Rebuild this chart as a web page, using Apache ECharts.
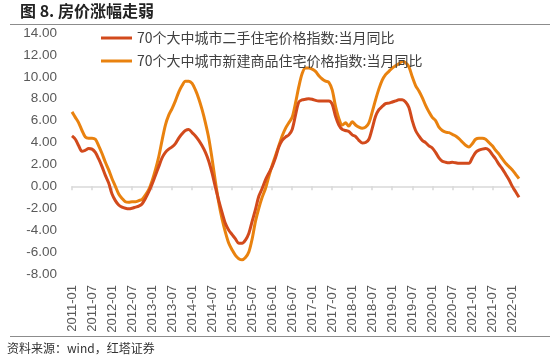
<!DOCTYPE html>
<html><head><meta charset="utf-8">
<script src="https://cdn.jsdelivr.net/npm/echarts@6/dist/echarts.min.js"></script>
<style>html,body{margin:0;padding:0;background:#fff}#c{width:550px;height:360px}</style>
</head><body><div id="c"></div>
<script>
var startYear = 2011, monthCount = 135;
var yTicks = [-8, 14, 2];
var seriesNames = ["70个大中城市二手住宅价格指数:当月同比", "70个大中城市新建商品住宅价格指数:当月同比"];
var secondHand = [4.6,4.3,3.7,3.2,3.3,3.45,3.4,3.1,2.5,1.8,1.0,0.3,
-0.7,-1.3,-1.7,-1.9,-2.0,-2.05,-2.0,-1.9,-1.8,-1.6,-1.1,-0.5,
0.2,1.0,1.8,2.6,3.1,3.4,3.6,3.9,4.4,4.8,5.1,5.2,
4.9,4.6,4.2,3.7,3.1,2.3,1.2,-0.1,-1.3,-2.4,-3.4,-4.0,
-4.4,-4.8,-5.2,-5.2,-4.9,-4.3,-3.2,-2.1,-0.9,-0.2,0.6,1.2,
1.8,2.6,3.6,4.2,4.5,4.7,5.2,6.5,7.7,7.9,7.95,8.0,
7.95,7.85,7.8,7.8,7.8,7.8,7.5,6.4,5.6,5.2,5.1,5.0,
4.7,4.55,4.2,3.95,4.0,4.3,5.3,6.4,7.0,7.3,7.55,7.6,
7.7,7.8,7.9,7.9,7.7,7.2,6.0,5.1,4.6,4.2,4.0,3.7,
3.5,3.1,2.6,2.3,2.2,2.15,2.2,2.15,2.1,2.1,2.1,2.1,
2.6,3.1,3.3,3.4,3.45,3.3,2.9,2.5,2.0,1.6,1.1,0.6,
0.0,-0.5,-1.0];
var newBuild = [6.8,6.3,5.8,5.1,4.5,4.4,4.4,4.3,3.7,3.0,2.2,1.5,
0.7,0.0,-0.7,-1.1,-1.4,-1.45,-1.4,-1.4,-1.3,-1.2,-0.8,-0.3,
0.5,1.5,2.7,4.2,5.6,6.5,7.1,7.8,8.6,9.2,9.6,9.6,
9.4,8.8,8.0,7.0,5.8,4.4,2.5,0.4,-1.5,-3.0,-4.2,-5.2,
-5.8,-6.3,-6.6,-6.7,-6.5,-6.0,-4.8,-3.2,-2.0,-1.0,-0.2,0.9,
1.9,2.8,3.7,4.6,5.3,5.8,6.3,7.6,9.1,10.3,10.8,10.8,
10.7,10.5,10.1,9.8,9.6,9.5,8.8,7.3,6.2,5.6,5.8,5.5,
5.9,5.6,5.4,5.3,5.4,5.8,6.8,7.9,8.9,9.7,10.2,10.5,
10.8,11.0,11.2,11.4,11.3,10.9,10.0,9.2,8.7,8.1,7.4,6.8,
6.3,6.0,5.4,5.1,4.95,4.9,4.75,4.6,4.35,4.05,3.75,3.6,
3.9,4.3,4.4,4.4,4.3,4.0,3.7,3.3,2.95,2.5,2.1,1.8,
1.5,1.1,0.7];
var categories = [];
for (var i = 0; i < monthCount; i++) {
  var y = startYear + Math.floor(i / 12), m = i % 12 + 1;
  categories.push(y + "-" + (m < 10 ? "0" + m : m));
}
var chart = echarts.init(document.getElementById('c'), null, {renderer: 'canvas'});
var axisFont = "Liberation Sans, Arial, sans-serif";
chart.setOption({
  animation: false,
  backgroundColor: '#fff',
  grid: {left: 72, right: 31, top: 33, bottom: 86},
  legend: {
    orient: 'vertical', left: 96, top: 26, itemGap: 9,
    itemWidth: 31, itemHeight: 3, icon: 'rect',
    textStyle: {fontFamily: "Noto Sans CJK SC", fontSize: 14, color: '#404040'},
    data: seriesNames
  },
  xAxis: [{
    type: 'category', data: categories, boundaryGap: false,
    axisLine: {onZero: true, lineStyle: {color: '#d9d9d9', width: 1.5}},
    axisTick: {show: true, interval: 5, length: 4, lineStyle: {color: '#d9d9d9', width: 1.5}},
    axisLabel: {show: false}, splitLine: {show: false}
  }, {
    type: 'category', data: categories, boundaryGap: false, position: 'bottom',
    axisLine: {show: false, onZero: false}, axisTick: {show: false},
    axisLabel: {interval: 5, rotate: 90, margin: 11, fontSize: 13, color: '#595959', fontFamily: axisFont}
  }],
  yAxis: {
    type: 'value', min: yTicks[0], max: yTicks[1], interval: yTicks[2],
    axisLine: {show: false}, axisTick: {show: false}, splitLine: {show: false},
    axisLabel: {fontSize: 13.5, color: '#595959', fontFamily: axisFont, margin: 15,
      formatter: function (v) { return v.toFixed(2); }}
  },
  series: [{
    name: seriesNames[0], type: 'line', data: secondHand, showSymbol: false, smooth: 0.3,
    lineStyle: {color: '#D24A1C', width: 3}, itemStyle: {color: '#D24A1C'}, z: 3
  }, {
    name: seriesNames[1], type: 'line', data: newBuild, showSymbol: false, smooth: 0.3,
    lineStyle: {color: '#E9820F', width: 3}, itemStyle: {color: '#E9820F'}, z: 2
  }],
  graphic: [
    {type: 'text', left: 20, top: 3, style: {text: '图 8. 房价涨幅走弱', fontFamily: "Noto Sans CJK SC", fontWeight: 'bold', fontSize: 16, fill: '#222'}},
    {type: 'line', shape: {x1: 10, y1: 24.5, x2: 550, y2: 24.5}, style: {stroke: '#8c8c8c', lineWidth: 1}},
    {type: 'line', shape: {x1: 10, y1: 336.5, x2: 550, y2: 336.5}, style: {stroke: '#8c8c8c', lineWidth: 1}},
    {type: 'text', left: 7, top: 342, style: {text: '资料来源：wind，红塔证券', fontFamily: "Noto Sans CJK SC", fontSize: 12, fill: '#333'}}
  ]
});
</script></body></html>
